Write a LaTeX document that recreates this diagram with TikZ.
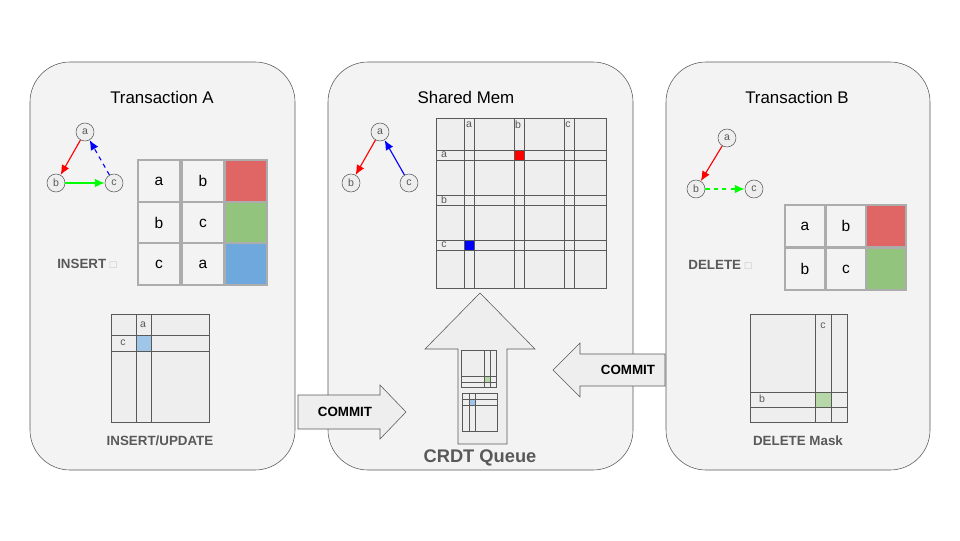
\documentclass[tikz,border=0pt]{standalone}
\usepackage{fontspec}
\setmainfont{Liberation Sans}
\usetikzlibrary{arrows.meta}

\definecolor{panelbg}{HTML}{F3F3F3}
\definecolor{cellbg}{HTML}{EEEEEE}
\definecolor{lineg}{HTML}{595959}
\definecolor{cellred}{HTML}{E06666}
\definecolor{cellgreen}{HTML}{93C47D}
\definecolor{cellblue}{HTML}{6FA8DC}
\definecolor{lgreen}{HTML}{B6D7A8}
\definecolor{lblue}{HTML}{9FC5E8}

\begin{document}
\begin{tikzpicture}[x=0.025cm,y=-0.025cm]

	\tikzset{panel/.style = {draw=lineg,fill=panelbg,rounded corners=1cm}}
	\tikzset{title/.style = {font=\fontsize{12}{14}\selectfont}}
	\tikzset{tag/.style = {font=\fontsize{9.5}{11}\selectfont\bfseries,text=lineg}}
	\tikzset{vertex/.style = {shape=circle,draw=lineg,fill=cellbg,inner sep=0pt,minimum size=0.45cm,text=lineg,font=\fontsize{7.5}{8}\selectfont}}
	\tikzset{edge/.style = {-{Latex[length=7pt,width=6pt]},thick}}
	\tikzset{cell/.style = {draw=gray!65,line width=1.2pt,fill=panelbg,minimum width=1.05cm,minimum height=1.04cm,inner sep=0pt,font=\fontsize{11}{12}\selectfont}}
	\tikzset{grid/.style = {draw=lineg,fill=cellbg}}
	\tikzset{lbl/.style = {text=lineg,font=\fontsize{7.5}{8}\selectfont,inner sep=0pt}}
	\tikzset{bigarrow/.style = {draw=lineg,fill=cellbg}}

	\useasboundingbox (0,0) rectangle (960,540);

	% panels
	\draw[panel] (30,62) rectangle (295,470);
	\draw[panel] (328,62) rectangle (633,470);
	\draw[panel] (666,62) rectangle (930,470);
	\node[title] (ta) at (162,97) {Transaction A};
	\node[title] (sm) at (466,97) {Shared Mem};
	\node[title] (tb) at (797,97) {Transaction B};

	% transaction A
	\node[vertex] (a1) at (85,132) {a};
	\node[vertex] (b1) at (56,183) {b};
	\node[vertex] (c1) at (114,183) {c};
	\draw[edge,red] (a1) -- (b1);
	\draw[edge,green] (b1) -- (c1);
	\draw[edge,blue,dashed] (c1) -- (a1);

	\node[cell] (r1a) at (159,181) {a};
	\node[cell] (r1b) at (203,181) {b};
	\node[cell,fill=cellred] (r1c) at (246,181) {};
	\node[cell] (r2a) at (159,223) {b};
	\node[cell] (r2b) at (203,223) {c};
	\node[cell,fill=cellgreen] (r2c) at (246,223) {};
	\node[cell] (r3a) at (159,264) {c};
	\node[cell] (r3b) at (203,264) {a};
	\node[cell,fill=cellblue] (r3c) at (246,264) {};
	\node[tag] (ins) at (87,264) {INSERT {\color{lightgray}\fontsize{8}{9}\selectfont □}};

	\draw[grid] (111,314) rectangle (209,422);
	\draw[lineg] (136,314) -- (136,422) (151,314) -- (151,422);
	\draw[lineg] (111,335) -- (209,335) (111,351) -- (209,351);
	\fill[lblue] (136.5,335.5) rectangle (150.5,350.5);
	\node[lbl] (ma) at (143,325) {a};
	\node[lbl] (mc) at (123,343) {c};
	\node[tag] (iu) at (160,441) {INSERT/UPDATE};

	% shared memory
	\node[vertex] (a2) at (380,132) {a};
	\node[vertex] (b2) at (351,183) {b};
	\node[vertex] (c2) at (409,183) {c};
	\draw[edge,red] (a2) -- (b2);
	\draw[edge,blue] (c2) -- (a2);

	\draw[grid] (436,118) rectangle (606,288);
	\foreach \p in {464,474,514,524,564,574}
		\draw[lineg] (\p,118) -- (\p,288);
	\foreach \p in {150,160,195,205,240,250}
		\draw[lineg] (436,\p) -- (606,\p);
	\fill[red] (514.5,150.5) rectangle (523.5,159.5);
	\fill[blue] (464.5,240.5) rectangle (473.5,249.5);
	\foreach \t/\x in {a/469,b/518,c/568}
		\node[lbl] (col\t) at (\x,125) {\t};
	\foreach \t/\y in {a/155,b/200,c/245}
		\node[lbl] (row\t) at (444,\y) {\t};

	\draw[bigarrow] (480,293) -- (535,349) -- (507,349) -- (507,444)
		-- (458,444) -- (458,349) -- (425,349) -- cycle;
	\draw[grid] (461,350) rectangle (496,387);
	\draw[lineg] (484,350) -- (484,387) (490,350) -- (490,387)
		(461,376) -- (496,376) (461,382) -- (496,382);
	\fill[lgreen] (484.5,376.5) rectangle (489.5,381.5);
	\draw[grid] (462,393) rectangle (497,431);
	\draw[lineg] (469,393) -- (469,431) (475,393) -- (475,431)
		(462,399) -- (497,399) (462,405) -- (497,405);
	\fill[lblue] (469.5,399.5) rectangle (474.5,404.5);
	\node[tag,font=\fontsize{13}{15}\selectfont\bfseries] (crdt) at (480,458) {CRDT Queue};

	% commit arrows
	\draw[bigarrow] (298,395) -- (380,395) -- (380,385) -- (406,412)
		-- (380,439) -- (380,429) -- (298,429) -- cycle;
	\node[font=\fontsize{9.5}{11}\selectfont\bfseries] (cma) at (345,412) {COMMIT};
	\draw[bigarrow] (665,354) -- (580,354) -- (580,343) -- (553,370)
		-- (580,397) -- (580,386) -- (665,386) -- cycle;
	\node[font=\fontsize{9.5}{11}\selectfont\bfseries] (cmb) at (628,370) {COMMIT};

	% transaction B
	\node[vertex] (a3) at (727,138) {a};
	\node[vertex] (b3) at (696,189) {b};
	\node[vertex] (c3) at (754,189) {c};
	\draw[edge,red] (a3) -- (b3);
	\draw[edge,green,dashed] (b3) -- (c3);

	\node[cell,minimum width=1cm] (s1a) at (805,226) {a};
	\node[cell,minimum width=1cm] (s1b) at (846,226) {b};
	\node[cell,minimum width=1cm,fill=cellred] (s1c) at (886,226) {};
	\node[cell,minimum width=1cm] (s2a) at (805,269) {b};
	\node[cell,minimum width=1cm] (s2b) at (846,269) {c};
	\node[cell,minimum width=1cm,fill=cellgreen] (s2c) at (886,269) {};
	\node[tag] (del) at (720,265) {DELETE {\color{lightgray}\fontsize{8}{9}\selectfont □}};

	\draw[grid] (750,314) rectangle (847,422);
	\draw[lineg] (815,314) -- (815,422) (831,314) -- (831,422);
	\draw[lineg] (750,392) -- (847,392) (750,407) -- (847,407);
	\fill[lgreen] (815.5,392.5) rectangle (830.5,406.5);
	\node[lbl] (mc2) at (823,326) {c};
	\node[lbl] (mb2) at (762,399) {b};
	\node[tag] (dm) at (798,441) {DELETE Mask};

\end{tikzpicture}
\end{document}
